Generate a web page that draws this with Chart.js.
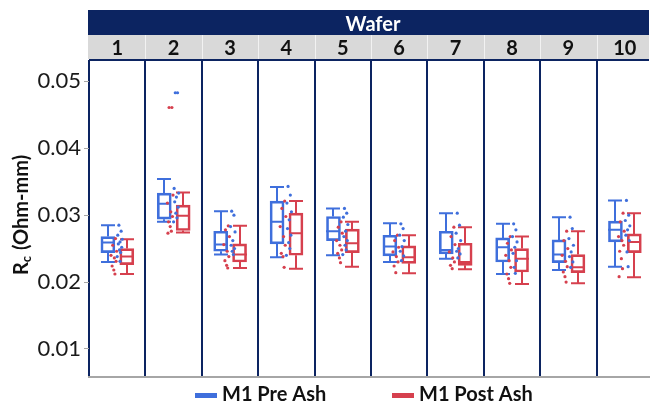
<!DOCTYPE html>
<html>
<head>
<meta charset="utf-8">
<script src="https://cdn.jsdelivr.net/npm/chart.js@4.4.1/dist/chart.umd.min.js"></script>
<style>
  body { margin: 0; background: #fff; }
  #wrap { width: 653px; height: 406px; }
</style>
</head>
<body>
<div id="wrap"><canvas id="myChart"></canvas></div>
<script>
// Data

const wafers = ["1", "2", "3", "4", "5", "6", "7", "8", "9", "10"];
const yTicks = [0.01, 0.02, 0.03, 0.04, 0.05];

// M1 Pre Ash box stats
const preLow = [0.0230, 0.0290, 0.0241, 0.0237, 0.0240, 0.0230, 0.0235, 0.0212, 0.0218, 0.0223];
const preQ1 = [0.0244, 0.0294, 0.0246, 0.0257, 0.0262, 0.0239, 0.0242, 0.0230, 0.0229, 0.0260];
const preMed = [0.0259, 0.0317, 0.0256, 0.0290, 0.0276, 0.0253, 0.0248, 0.0252, 0.0241, 0.0278];
const preQ3 = [0.0268, 0.0333, 0.0276, 0.0321, 0.0298, 0.0270, 0.0276, 0.0266, 0.0263, 0.0291];
const preHigh = [0.0285, 0.0354, 0.0306, 0.0342, 0.0310, 0.0288, 0.0303, 0.0287, 0.0297, 0.0322];

// M1 Post Ash box stats
const postLow = [0.0212, 0.0274, 0.0221, 0.0220, 0.0223, 0.0213, 0.0219, 0.0197, 0.0198, 0.0207];
const postQ1 = [0.0226, 0.0277, 0.0230, 0.0240, 0.0244, 0.0228, 0.0225, 0.0215, 0.0214, 0.0244];
const postMed = [0.0238, 0.0299, 0.0241, 0.0273, 0.0258, 0.0237, 0.0230, 0.0235, 0.0222, 0.0260];
const postQ3 = [0.0250, 0.0315, 0.0257, 0.0303, 0.0279, 0.0254, 0.0258, 0.0250, 0.0241, 0.0272];
const postHigh = [0.0264, 0.0334, 0.0284, 0.0321, 0.0290, 0.0270, 0.0282, 0.0268, 0.0276, 0.0303];

// raw measurements (dots)
const prePoints = [
  [0.0285, 0.0276, 0.0270, 0.0264, 0.0260, 0.0257, 0.0252, 0.0248, 0.0244, 0.0238, 0.0231],
  [0.0483, 0.0483, 0.0340, 0.0333, 0.0327, 0.0320, 0.0312, 0.0303, 0.0296, 0.0290],
  [0.0306, 0.0300, 0.0283, 0.0275, 0.0262, 0.0255, 0.0250, 0.0246, 0.0241],
  [0.0343, 0.0330, 0.0318, 0.0305, 0.0293, 0.0280, 0.0270, 0.0259, 0.0250, 0.0240],
  [0.0310, 0.0303, 0.0297, 0.0286, 0.0276, 0.0268, 0.0262, 0.0255, 0.0248, 0.0241],
  [0.0287, 0.0280, 0.0270, 0.0262, 0.0253, 0.0246, 0.0239, 0.0232],
  [0.0303, 0.0285, 0.0273, 0.0262, 0.0250, 0.0246, 0.0242, 0.0236],
  [0.0287, 0.0278, 0.0268, 0.0260, 0.0252, 0.0243, 0.0232, 0.0222, 0.0213],
  [0.0297, 0.0280, 0.0265, 0.0255, 0.0245, 0.0238, 0.0230, 0.0222],
  [0.0322, 0.0300, 0.0292, 0.0284, 0.0278, 0.0270, 0.0262, 0.0245, 0.0223],
];
const postPoints = [
  [0.0265, 0.0255, 0.0246, 0.0240, 0.0236, 0.0231, 0.0224, 0.0218, 0.0212],
  [0.0461, 0.0461, 0.0330, 0.0318, 0.0305, 0.0298, 0.0290, 0.0283, 0.0276, 0.0273],
  [0.0284, 0.0278, 0.0268, 0.0256, 0.0246, 0.0238, 0.0232, 0.0225, 0.0221],
  [0.0321, 0.0310, 0.0298, 0.0283, 0.0268, 0.0255, 0.0243, 0.0238, 0.0222],
  [0.0290, 0.0282, 0.0273, 0.0262, 0.0255, 0.0248, 0.0243, 0.0236, 0.0229],
  [0.0270, 0.0262, 0.0252, 0.0245, 0.0238, 0.0230, 0.0224, 0.0214],
  [0.0282, 0.0268, 0.0256, 0.0245, 0.0236, 0.0230, 0.0225, 0.0220],
  [0.0268, 0.0258, 0.0248, 0.0240, 0.0232, 0.0222, 0.0212, 0.0205, 0.0198],
  [0.0276, 0.0262, 0.0250, 0.0240, 0.0231, 0.0223, 0.0215, 0.0208, 0.0200],
  [0.0303, 0.0290, 0.0276, 0.0268, 0.0262, 0.0255, 0.0246, 0.0235, 0.0220, 0.0208],
];

// Style

const blue = "#3f6fdc";
const red = "#d6404e";
const navy = "#0c2461";
const preOff = -0.165;
const postOff = 0.17;
const preJitter = [0.03, 0.07, 0.01, 0.09, 0.05, 0.02, 0.08, 0.04, 0.06, 0.00, 0.05];
const postJitter = [-0.03, -0.08, -0.01, -0.11, -0.05, -0.02, -0.09, -0.06, -0.04, -0.10];

function boxData(q1, q3, off) {
  return q1.map((v, i) => ({ x: i + 1 + off, y: [v, q3[i]] }));
}
function dotData(points, jitter) {
  return points.flatMap((vals, i) =>
    vals.map((v, j) => ({ x: i + 1 + jitter[j % jitter.length], y: v }))
  );
}

const groups = [
  { color: blue, off: preOff, low: preLow, q1: preQ1, med: preMed, q3: preQ3, high: preHigh },
  { color: red, off: postOff, low: postLow, q1: postQ1, med: postMed, q3: postQ3, high: postHigh },
];

// whiskers, caps and medians, drawn under the boxes
const whiskerPlugin = {
  id: "whiskers",
  beforeDatasetsDraw(chart) {
    const { ctx, scales: { x, y } } = chart;
    const half = 7;
    ctx.save();
    ctx.lineWidth = 2;
    groups.forEach((g) => {
      ctx.strokeStyle = g.color;
      g.low.forEach((lo, i) => {
        const px = Math.round(x.getPixelForValue(i + 1 + g.off));
        const yl = y.getPixelForValue(lo);
        const y1 = y.getPixelForValue(g.q1[i]);
        const ym = y.getPixelForValue(g.med[i]);
        const y3 = y.getPixelForValue(g.q3[i]);
        const yh = y.getPixelForValue(g.high[i]);
        ctx.beginPath();
        ctx.moveTo(px, yh); ctx.lineTo(px, y3);
        ctx.moveTo(px, y1); ctx.lineTo(px, yl);
        ctx.moveTo(px - half, yh); ctx.lineTo(px + half, yh);
        ctx.moveTo(px - half, yl); ctx.lineTo(px + half, yl);
        ctx.moveTo(px - half, ym); ctx.lineTo(px + half, ym);
        ctx.stroke();
      });
    });
    ctx.restore();
  },
};

// header bands, y title, legend
const framePlugin = {
  id: "frame",
  beforeDraw(chart) {
    const { ctx, width, height } = chart;
    ctx.save();
    ctx.fillStyle = "#fff";
    ctx.fillRect(0, 0, width, height);
    ctx.restore();
  },
  afterDraw(chart) {
    const { ctx, chartArea: a, scales: { x } } = chart;
    ctx.save();
    // Wafer band
    ctx.fillStyle = navy;
    ctx.fillRect(a.left - 1, 10, a.right - a.left + 1, 25);
    ctx.fillStyle = "#d9d9d9";
    ctx.fillRect(a.left - 1, 35, a.right - a.left + 1, 24);
    ctx.strokeStyle = "#f2f2f2";
    ctx.lineWidth = 1;
    for (let i = 1; i < wafers.length; i++) {
      const px = Math.round(x.getPixelForValue(i + 0.5)) + 0.5;
      ctx.beginPath(); ctx.moveTo(px, 35); ctx.lineTo(px, 59); ctx.stroke();
    }
    ctx.fillStyle = "#fff";
    ctx.font = "bold 20px Lato";
    ctx.textAlign = "center";
    ctx.textBaseline = "alphabetic";
    ctx.fillText("Wafer", 373, 31);
    ctx.fillStyle = "#111";
    ctx.font = "bold 20px Lato";
    wafers.forEach((w, i) => ctx.fillText(w, x.getPixelForValue(i + 1), 55));
    // top frame line
    ctx.strokeStyle = navy;
    ctx.lineWidth = 2;
    ctx.beginPath(); ctx.moveTo(a.left, a.top); ctx.lineTo(a.right, a.top); ctx.stroke();

    // y axis title with subscript
    ctx.translate(28, 275);
    ctx.rotate(-Math.PI / 2);
    ctx.textAlign = "left";
    ctx.fillStyle = "#111";
    ctx.font = "bold 20px Lato";
    ctx.fillText("R", 0, 0);
    let cx = ctx.measureText("R").width;
    ctx.font = "bold 13px Lato";
    ctx.fillText("c", cx, 3);
    cx += ctx.measureText("c").width + 1;
    ctx.font = "bold 20px Lato";
    ctx.fillText(" (Ohm-mm)", cx, 0);
    ctx.setTransform(1, 0, 0, 1, 0, 0);

    // legend
    const items = [
      { text: "M1 Pre Ash", color: blue, x: 195 },
      { text: "M1 Post Ash", color: red, x: 392 },
    ];
    ctx.font = "bold 20px Lato";
    ctx.textAlign = "left";
    ctx.textBaseline = "middle";
    items.forEach((it) => {
      ctx.fillStyle = it.color;
      ctx.fillRect(it.x, 393, 22, 5);
      ctx.fillStyle = "#111";
      ctx.fillText(it.text, it.x + 27, 395);
    });
    ctx.restore();
  },
};

const ctx = document.getElementById("myChart");
const myChart = new Chart(ctx, {
  type: "bar",
  data: {
    datasets: [
      {
        type: "scatter",
        label: "M1 Pre Ash points",
        data: dotData(prePoints, preJitter),
        backgroundColor: blue,
        pointRadius: 1.6,
        pointBorderWidth: 0,
      },
      {
        type: "scatter",
        label: "M1 Post Ash points",
        data: dotData(postPoints, postJitter),
        backgroundColor: red,
        pointRadius: 1.6,
        pointBorderWidth: 0,
      },
      {
        label: "M1 Pre Ash",
        data: boxData(preQ1, preQ3, preOff),
        backgroundColor: "rgba(0,0,0,0)",
        borderColor: blue,
        borderWidth: 2,
        borderSkipped: false,
        barThickness: 14,
        grouped: false,
      },
      {
        label: "M1 Post Ash",
        data: boxData(postQ1, postQ3, postOff),
        backgroundColor: "rgba(0,0,0,0)",
        borderColor: red,
        borderWidth: 2,
        borderSkipped: false,
        barThickness: 14,
        grouped: false,
      },
    ],
  },
  options: {
    responsive: true,
    maintainAspectRatio: false,
    devicePixelRatio: 1,
    animation: false,
    layout: { padding: { top: 60, bottom: 29, left: 0, right: 0 } },
    plugins: {
      legend: { display: false },
      tooltip: { enabled: false },
    },
    scales: {
      x: {
        type: "linear",
        min: 0.5,
        max: 10.43,
        offset: false,
        afterBuildTicks: (s) => {
          s.ticks = wafers.map((w, i) => ({ value: i + 0.5 }));
        },
        afterFit: (s) => { s.height = 0; },
        ticks: { display: false },
        grid: { color: navy, lineWidth: 2, drawTicks: false, offset: false },
        border: { display: true, color: "#a6a6a6", width: 2 },
      },
      y: {
        min: 0.0058,
        max: 0.0532,
        afterBuildTicks: (s) => {
          s.ticks = yTicks.map((v) => ({ value: v }));
        },
        afterFit: (s) => { s.width = 89; },
        ticks: {
          font: { family: "Lato", size: 22 },
          color: "#1a1a1a",
          padding: 3,
          callback: (v) => v.toFixed(2),
        },
        grid: { drawOnChartArea: false, drawTicks: true, tickLength: 5, color: "#a6a6a6" },
        border: { display: false },
      },
    },
  },
  plugins: [whiskerPlugin, framePlugin],
});
</script>
</body>
</html>
